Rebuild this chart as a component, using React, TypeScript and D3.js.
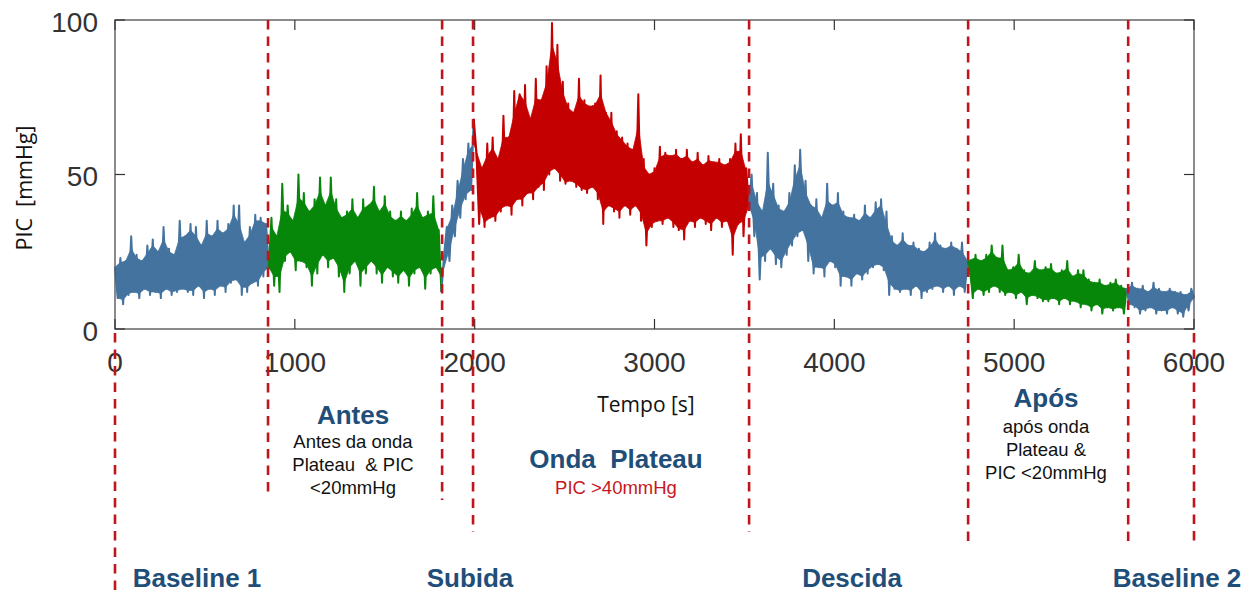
import React from "react";
import * as d3 from "d3";

// ---------- data ----------
const xTickValues = [0, 1000, 2000, 3000, 4000, 5000, 6000];
const yTickValues = [0, 50, 100];
const sampleStep = 15; // seconds between samples

// PIC samples [mmHg], one array per phase, sampled every 15 s
const baseline1Start = 0;
const baseline1PIC = [20, 10, 23, 8, 22, 11, 30, 12, 24, 10, 22, 13, 27, 11, 29, 12, 25, 10, 33, 13, 26, 11, 24, 12, 35, 13, 30, 12, 34, 11, 33, 14, 27, 10, 35, 13, 30, 11, 35, 14, 31, 12, 34, 15, 40, 16, 40, 11, 28, 12, 33, 15, 37, 14, 36, 17, 34, 20];

const antesStart = 870;
const antesPIC = [36, 14, 30, 12, 47, 22, 40, 25, 35, 19, 50, 22, 44, 20, 38, 14, 42, 18, 49, 24, 40, 20, 49, 23, 42, 17, 36, 12, 38, 18, 42, 22, 36, 14, 42, 18, 40, 22, 46, 18, 38, 15, 43, 20, 38, 17, 35, 15, 38, 19, 35, 14, 39, 18, 44, 20, 36, 13, 38, 18, 43, 20, 32, 12];

const subidaStart = 1830;
const subidaPIC = [24, 33, 22, 40, 30, 48, 36, 55, 42, 60, 45, 68];

const plateauStart = 2010;
const plateauPIC = [57, 34, 52, 33, 60, 36, 62, 35, 55, 38, 69, 40, 62, 37, 77, 42, 76, 40, 79, 44, 68, 42, 81, 46, 74, 45, 85, 50, 99, 52, 92, 48, 80, 47, 73, 48, 70, 46, 81, 45, 74, 44, 72, 46, 73, 42, 82, 34, 70, 40, 70, 38, 64, 36, 62, 40, 60, 37, 58, 40, 76, 35, 55, 27, 50, 33, 52, 35, 59, 34, 57, 36, 56, 33, 58, 32, 55, 29, 58, 35, 54, 33, 57, 36, 53, 34, 56, 32, 54, 36, 55, 33, 53, 35, 55, 24, 60, 34, 63, 30, 52, 40];

const descidaStart = 3540;
const descidaPIC = [50, 30, 44, 16, 38, 22, 57, 26, 47, 21, 40, 20, 38, 24, 44, 27, 53, 30, 58, 32, 48, 22, 40, 18, 42, 20, 36, 17, 47, 22, 40, 20, 44, 14, 38, 17, 36, 14, 37, 18, 35, 16, 40, 18, 36, 20, 41, 21, 42, 19, 38, 11, 30, 13, 27, 12, 31, 13, 27, 11, 28, 14, 26, 10, 25, 12, 28, 13, 31, 14, 27, 12, 26, 14, 28, 11, 26, 14, 28, 12, 22];

const aposStart = 4755;
const aposPIC = [20, 10, 24, 13, 22, 11, 24, 12, 27, 14, 23, 12, 27, 11, 19, 12, 20, 10, 24, 12, 19, 8, 18, 11, 22, 10, 19, 9, 20, 9, 21, 10, 18, 8, 19, 10, 22, 8, 17, 9, 19, 7, 19, 8, 16, 6, 15, 8, 16, 5, 14, 7, 15, 6, 16, 7, 14, 5, 13];

const baseline2Start = 5640;
const baseline2PIC = [8, 15, 7, 13, 5, 14, 6, 12, 7, 15, 5, 13, 6, 12, 5, 13, 7, 12, 5, 12, 4, 11, 6, 13, 10];

// phase boundaries [s]
const phaseBoundaries = [0, 851, 1819, 1991, 3526, 4744, 5634, 6000];

// ---------- styling / layout ----------
const W = 1252;
const H = 592;
const BLUE = "#44739f";
const GREEN = "#07870a";
const RED = "#c40000";
const NAVY = "#1f4e79";
const DASH_RED = "#c0151c";
const CORE_SHARE = 0.5; // how far the dense core reaches towards each peak

const segments = [
  { start: baseline1Start, values: baseline1PIC, color: BLUE },
  { start: antesStart, values: antesPIC, color: GREEN },
  { start: subidaStart, values: subidaPIC, color: BLUE },
  { start: plateauStart, values: plateauPIC, color: RED },
  { start: descidaStart, values: descidaPIC, color: BLUE },
  { start: aposStart, values: aposPIC, color: GREEN },
  { start: baseline2Start, values: baseline2PIC, color: BLUE },
];

// vertical extents of the dashed phase dividers (pixels)
const dividerExtents: [number, number][] = [
  [333, 592],
  [20, 497],
  [20, 500],
  [20, 532],
  [20, 532],
  [20, 546],
  [20, 546],
  [333, 546],
];

type Pt = [number, number];

export default function App() {
  const x = d3.scaleLinear().domain([0, 6000]).range([115, 1194]);
  const y = d3.scaleLinear().domain([0, 100]).range([329, 20]);

  const line = d3
    .line<Pt>()
    .x((d) => x(d[0]))
    .y((d) => y(d[1]));

  // full sample series, with the segment each sample belongs to
  const full: { p: Pt; seg: number }[] = [];
  segments.forEach((s, si) => {
    s.values.forEach((v, i) => full.push({ p: [s.start + i * sampleStep, v], seg: si }));
  });
  const n = full.length;
  const val = (k: number) => full[k].p[1];
  const maxIdx: number[] = [];
  const minIdx: number[] = [];
  for (let k = 0; k < n; k++) {
    const a = k > 0 ? val(k - 1) : null;
    const b = k < n - 1 ? val(k + 1) : null;
    if ((a === null || val(k) >= a) && (b === null || val(k) >= b)) maxIdx.push(k);
    if ((a === null || val(k) <= a) && (b === null || val(k) <= b)) minIdx.push(k);
  }
  // dense core of the trace, so single spikes stay thin lines outside it
  const coreUpper = new Map<number, number>();
  maxIdx.forEach((k, j) => {
    const nb = [maxIdx[j - 1], k, maxIdx[j + 1]].filter((q) => q !== undefined) as number[];
    const lo = d3.min(nb, val) as number;
    coreUpper.set(k, val(k) - (1 - CORE_SHARE) * (val(k) - lo));
  });
  const coreLower = new Map<number, number>();
  minIdx.forEach((k, j) => {
    const nb = [minIdx[j - 1], k, minIdx[j + 1]].filter((q) => q !== undefined) as number[];
    const hi = d3.max(nb, val) as number;
    coreLower.set(k, val(k) + (1 - CORE_SHARE) * (hi - val(k)));
  });

  const shapes = segments.map((s, si) => {
    const idx: number[] = [];
    full.forEach((f, k) => {
      if (f.seg === si) idx.push(k);
    });
    if (si > 0) idx.unshift(idx[0] - 1); // join with the previous sample
    const pts = idx.map((k) => full[k].p);
    const first = idx[0];
    const last = idx[idx.length - 1];
    const upper: Pt[] = idx
      .filter((k) => k === first || k === last || coreUpper.has(k))
      .map((k) => [full[k].p[0], coreUpper.has(k) ? (coreUpper.get(k) as number) : val(k)]);
    const lower: Pt[] = idx
      .filter((k) => k === first || k === last || coreLower.has(k))
      .map((k) => [full[k].p[0], coreLower.has(k) ? (coreLower.get(k) as number) : val(k)]);
    const band = (line([...upper, ...lower.slice().reverse()]) || "") + "Z";
    return { band, trace: line(pts) || "", color: s.color };
  });

  const tickFont = "'Liberation Sans', Arial, Helvetica, sans-serif";
  const boldFont = "'Liberation Sans', Arial, Helvetica, sans-serif";
  const labelFont = "'Open Sans', 'Noto Sans', sans-serif";
  const [x0, x1] = x.range();
  const [y0, y1] = y.range();
  const tickLen = 10;
  const pre = { whiteSpace: "pre" as const };

  return (
    <svg
      width={W}
      height={H}
      style={{ position: "absolute", left: 0, top: 0, background: "#fff" }}
    >
      <rect x={0} y={0} width={W} height={H} fill="#fff" />
      {/* signal: dense core of the trace plus the trace itself */}
      <g>
        {shapes.map((s, i) => (
          <g key={i}>
            <path d={s.band} fill={s.color} stroke={s.color} strokeWidth={0.8} strokeLinejoin="round" />
            <path d={s.trace} fill="none" stroke={s.color} strokeWidth={2} strokeLinejoin="round" />
          </g>
        ))}
      </g>
      {/* frame */}
      <rect
        x={x0}
        y={y1}
        width={x1 - x0}
        height={y0 - y1}
        fill="none"
        stroke="#5a5a5a"
        strokeWidth={1.4}
      />
      {/* x ticks */}
      {xTickValues.map((t) => (
        <g key={"xt" + t}>
          <line x1={x(t)} x2={x(t)} y1={y0} y2={y0 - tickLen} stroke="#333" strokeWidth={1.2} />
          <line x1={x(t)} x2={x(t)} y1={y1} y2={y1 + tickLen} stroke="#333" strokeWidth={1.2} />
          <text
            x={x(t)}
            y={362}
            textAnchor="middle"
            dominantBaseline="central"
            fontFamily={tickFont}
            fontSize={28}
            fill="#333"
          >
            {t}
          </text>
        </g>
      ))}
      {/* y ticks */}
      {yTickValues.map((v) => (
        <g key={"yt" + v}>
          <line x1={x0} x2={x0 + tickLen} y1={y(v)} y2={y(v)} stroke="#333" strokeWidth={1.2} />
          <line x1={x1} x2={x1 - tickLen} y1={y(v)} y2={y(v)} stroke="#333" strokeWidth={1.2} />
          <text
            x={98}
            y={y(v) + 2}
            textAnchor="end"
            dominantBaseline="central"
            fontFamily={tickFont}
            fontSize={28}
            fill="#333"
          >
            {v}
          </text>
        </g>
      ))}
      {/* axis titles */}
      <text
        transform="translate(32,188) rotate(-90)"
        textAnchor="middle"
        fontFamily={labelFont}
        fontSize={21.5}
        fill="#111"
        style={pre}
      >
        PIC  [mmHg]
      </text>
      <text x={646} y={412} textAnchor="middle" fontFamily={labelFont} fontSize={21} fill="#111">
        Tempo [s]
      </text>

      {/* dashed phase dividers */}
      {phaseBoundaries.map((b, i) => (
        <line
          key={"div" + i}
          x1={x(b)}
          x2={x(b)}
          y1={dividerExtents[i][0]}
          y2={dividerExtents[i][1]}
          stroke={DASH_RED}
          strokeWidth={2.6}
          strokeDasharray="9.5 7"
        />
      ))}

      {/* phase annotations */}
      <g fontFamily={boldFont} fontWeight="bold" fontSize={26} fill={NAVY} textAnchor="middle">
        <text x={197} y={587} style={pre}>Baseline 1</text>
        <text x={353} y={424} style={pre}>Antes</text>
        <text x={470} y={587} style={pre}>Subida</text>
        <text x={616} y={468} style={pre}>{"Onda  Plateau"}</text>
        <text x={852} y={587} style={pre}>Descida</text>
        <text x={1046} y={407} style={pre}>Após</text>
        <text x={1177} y={587} style={pre}>Baseline 2</text>
      </g>
      <g fontFamily={boldFont} fontSize={18.5} fill="#111" textAnchor="middle">
        <text x={353} y={448} style={pre}>Antes da onda</text>
        <text x={353} y={471} style={pre}>{"Plateau  & PIC"}</text>
        <text x={353} y={494} style={pre}>{"<20mmHg"}</text>
        <text x={1046} y={433} style={pre}>após onda</text>
        <text x={1046} y={456} style={pre}>{"Plateau &"}</text>
        <text x={1046} y={479} style={pre}>{"PIC <20mmHg"}</text>
      </g>
      <text
        x={616}
        y={494}
        textAnchor="middle"
        fontFamily={boldFont}
        fontSize={18.5}
        fill="#c8161e"
        style={pre}
      >
        {"PIC >40mmHg"}
      </text>
    </svg>
  );
}
